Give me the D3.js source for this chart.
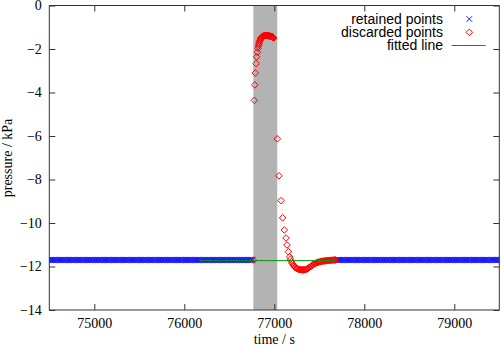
<!DOCTYPE html>
<html>
<head>
<meta charset="utf-8">
<script src="https://cdn.jsdelivr.net/npm/d3@7"></script>
<style>
	body { margin: 0; background: #fff; }
	svg { display: block; }
	.tick text { font-family: "Liberation Serif", "DejaVu Serif", serif; font-size: 14px; fill: #000; }
	.tick line { stroke: #333; }
	.legend text { font-family: "Liberation Sans", Arial, sans-serif; font-size: 14px; fill: #000; }
</style>
</head>
<body>
<div id="chart"></div>
<script>
//Axis ticks
var timeTicks = [75000, 76000, 77000, 78000, 79000];
var pressureTicks = [0, -2, -4, -6, -8, -10, -12, -14];

//Grey window that was cut out
var windowStart = 76767;
var windowEnd = 77033;

//Retained points: pressure stays flat, logged every 10 s on both sides of the event
var retainedSpans = [[74480, 76760], [77690, 79520]];
var retainedStep = 10;
var retainedLevel = -11.7;

//Discarded points (time / s, pressure / kPa)
var discardedTime = [76765, 76778, 76783, 76789, 76797, 76804, 76811,
	76819, 76823, 76827, 76831, 76836, 76841, 76847, 76852, 76858, 76863,
	76869, 76875, 76880, 76886, 76892, 76898, 76904, 76910, 76916, 76922,
	76928, 76934, 76940, 76946, 76952, 76958, 76964, 76970, 76976, 76982,
	76988, 76993,
	77033, 77052, 77074, 77093, 77111, 77130, 77141, 77156, 77171,
	77180, 77190, 77200, 77210, 77220, 77230, 77240, 77250, 77260, 77270,
	77280, 77290, 77300, 77310, 77320, 77330, 77340, 77350, 77360, 77370,
	77380, 77390, 77400, 77410, 77420, 77430, 77440, 77450, 77460, 77470,
	77480, 77490, 77500, 77510, 77520, 77530, 77540, 77550, 77560, 77570,
	77580, 77590, 77600, 77610, 77620, 77630, 77640, 77650, 77660, 77670, 77680];
var discardedPressure = [-11.7, -4.36, -3.65, -3.10, -2.67, -2.36, -2.15,
	-1.97, -1.88, -1.80, -1.73, -1.66, -1.60, -1.54, -1.50, -1.47, -1.45,
	-1.43, -1.41, -1.40, -1.39, -1.39, -1.38, -1.38, -1.38, -1.38, -1.38,
	-1.39, -1.39, -1.40, -1.40, -1.41, -1.41, -1.42, -1.43, -1.44, -1.45,
	-1.47, -1.49,
	-6.13, -7.83, -8.97, -9.76, -10.32, -10.69, -11.01, -11.32, -11.56,
	-11.67, -11.78, -11.86, -11.93, -11.98, -12.03, -12.06, -12.09, -12.11, -12.13,
	-12.14, -12.15, -12.15, -12.16, -12.16, -12.15, -12.15, -12.14, -12.12, -12.10,
	-12.07, -12.04, -12.01, -11.98, -11.95, -11.92, -11.89, -11.87, -11.85, -11.83,
	-11.81, -11.80, -11.79, -11.78, -11.77, -11.76, -11.75, -11.75, -11.74, -11.74,
	-11.73, -11.73, -11.72, -11.72, -11.72, -11.71, -11.71, -11.71, -11.70, -11.70, -11.70];

//Fitted line
var fitTime = [76170, 77680];
var fitPressure = [-11.73, -11.73];

//SVG setup
var margin = { top: 5.5, right: 4.7, bottom: 38, left: 49.3 };
var width = 504 - margin.left - margin.right;
var height = 348 - margin.top - margin.bottom;

var svg = d3.select('#chart')
	.append('svg')
	.attr('width', 504)
	.attr('height', 348)
	.append('g')
	.attr('transform', 'translate(' + margin.left + ',' + margin.top + ')');

//Scales
var x = d3.scaleLinear().domain([74500, 79500]).range([0, width]);
var y = d3.scaleLinear().domain([-14, 0]).range([height, 0]);

svg.append('clipPath').attr('id', 'plotClip')
	.append('rect').attr('width', width).attr('height', height);

var plot = svg.append('g').attr('clip-path', 'url(#plotClip)');

//Grey band
plot.append('rect')
	.attr('x', x(windowStart))
	.attr('y', 0)
	.attr('width', x(windowEnd) - x(windowStart))
	.attr('height', height)
	.attr('fill', '#b3b3b3');

//Retained points as crosses
var retained = [];
retainedSpans.forEach(function(s) {
	d3.range(s[0], s[1] + 1, retainedStep).forEach(function(t) {
		retained.push({ t: t, p: retainedLevel });
	});
});
var c = 2.8;
var cross = function(px, py) {
	return 'M' + (px - c) + ',' + (py - c) + 'L' + (px + c) + ',' + (py + c) +
		'M' + (px - c) + ',' + (py + c) + 'L' + (px + c) + ',' + (py - c);
};
plot.append('g').selectAll('path')
	.data(retained)
	.enter()
	.append('path')
	.attr('d', function(d) { return cross(x(d.t), y(d.p)); })
	.attr('stroke', '#1a1aff')
	.attr('stroke-width', 1)
	.attr('fill', 'none');

//Discarded points as open diamonds
var diamond = function(px, py, r) {
	return 'M' + px + ',' + (py - r) + 'L' + (px + r) + ',' + py + 'L' + px + ',' + (py + r) + 'L' + (px - r) + ',' + py + 'Z';
};
plot.append('g').selectAll('path')
	.data(discardedTime)
	.enter()
	.append('path')
	.attr('d', function(t, i) { return diamond(x(t), y(discardedPressure[i]), 3.3); })
	.attr('stroke', '#ff0000')
	.attr('stroke-width', 1)
	.attr('fill', 'none');

//Fitted line
plot.append('path')
	.datum(fitTime)
	.attr('d', d3.line()
		.x(function(t) { return x(t); })
		.y(function(t, i) { return y(fitPressure[i]); }))
	.attr('stroke', '#009900')
	.attr('stroke-width', 1)
	.attr('fill', 'none');

//Axes, ticks pointing inwards and mirrored on top/right
svg.append('g')
	.attr('transform', 'translate(0,' + height + ')')
	.call(d3.axisBottom(x).tickValues(timeTicks).tickSize(-6).tickPadding(8).tickFormat(d3.format('d')))
	.call(function(g) { g.select('.domain').remove(); });
svg.append('g')
	.call(d3.axisTop(x).tickValues(timeTicks).tickSize(-6).tickFormat(''))
	.call(function(g) { g.select('.domain').remove(); });
svg.append('g')
	.call(d3.axisLeft(y).tickValues(pressureTicks).tickSize(-6).tickPadding(7.5)
		.tickFormat(function(d) { return d < 0 ? '\u2212' + Math.abs(d) : d; }))
	.call(function(g) { g.select('.domain').remove(); });
svg.append('g')
	.attr('transform', 'translate(' + width + ',0)')
	.call(d3.axisRight(y).tickValues(pressureTicks).tickSize(-6).tickFormat(''))
	.call(function(g) { g.select('.domain').remove(); });
svg.selectAll('.tick text').attr('fill', '#000');

//Frame
svg.append('rect')
	.attr('width', width)
	.attr('height', height)
	.attr('fill', 'none')
	.attr('stroke', '#333')
	.attr('stroke-width', 1);

//Axis labels
svg.append('text')
	.attr('x', x(77000))
	.attr('y', height + 34)
	.attr('text-anchor', 'middle')
	.attr('font-family', '"Liberation Serif", serif')
	.attr('font-size', 14)
	.text('time / s');
svg.append('text')
	.attr('transform', 'translate(' + (11.5 - margin.left) + ',' + (158 - margin.top) + ') rotate(-90)')
	.attr('text-anchor', 'middle')
	.attr('font-family', '"Liberation Serif", serif')
	.attr('font-size', 14)
	.text('pressure / kPa');

//Legend
var legend = svg.append('g').attr('class', 'legend')
	.attr('transform', 'translate(' + (-margin.left) + ',' + (-margin.top) + ')');
var legendData = ['retained points', 'discarded points', 'fitted line'];
legend.selectAll('text')
	.data(legendData)
	.enter()
	.append('text')
	.attr('x', 443)
	.attr('y', function(d, i) { return 19 + i * 13.2 + 5; })
	.attr('text-anchor', 'end')
	.text(function(d) { return d; });
legend.append('path')
	.attr('d', cross(469.3, 19))
	.attr('stroke', '#1a1aff').attr('fill', 'none');
legend.append('path')
	.attr('d', diamond(469.3, 32.3, 3.3))
	.attr('stroke', '#ff0000').attr('fill', 'none');
legend.append('line')
	.attr('x1', 451.7).attr('x2', 485.7)
	.attr('y1', 45.5).attr('y2', 45.5)
	.attr('stroke', '#009900');
</script>
</body>
</html>
